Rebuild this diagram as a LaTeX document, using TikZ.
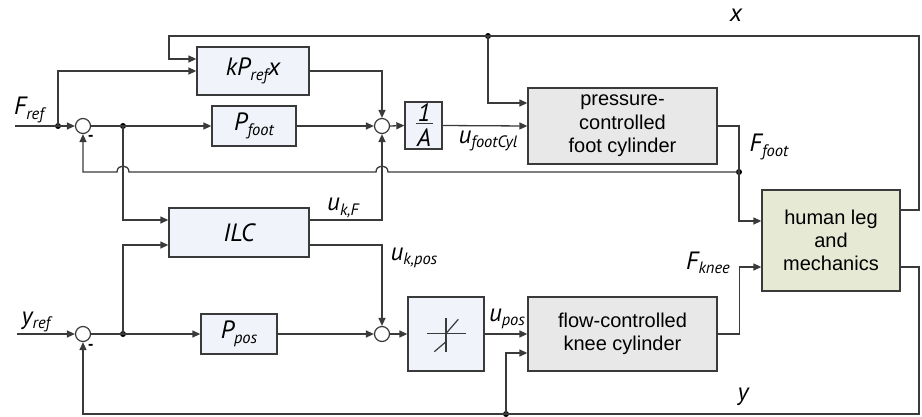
\documentclass[tikz,border=0pt]{standalone}
\usepackage{fontspec}
\setmainfont{Liberation Sans}
\newfontfamily\mfont{PT Sans}
\usetikzlibrary{arrows.meta}
\definecolor{ln}{HTML}{3A3A3A}
\definecolor{bluefill}{HTML}{F1F3FA}
\definecolor{grayfill}{HTML}{E8E8E8}
\definecolor{greenfill}{HTML}{E6E9D4}
\newcommand\ml[2]{{\mfont\itshape\fontsize{25}{25}\selectfont #1\raisebox{-4.5pt}{\fontsize{16.5}{16.5}\selectfont #2}}}
\newcommand\mi[1]{{\mfont\itshape\fontsize{25}{25}\selectfont #1}}
\tikzset{
  blk/.style={draw=ln, line width=1.3pt, fill=bluefill, inner sep=0pt},
  cylbox/.style={draw=ln, line width=1.3pt, fill=grayfill, inner sep=0pt, align=center,
     font=\fontsize{20}{23.5}\selectfont},
  humbox/.style={draw=ln, line width=1.3pt, fill=greenfill, inner sep=0pt, align=center,
     font=\fontsize{20}{23}\selectfont},
  sumc/.style={draw=ln, line width=1.2pt, fill=white, circle, minimum size=15pt, inner sep=0pt},
  jdot/.style={fill=black, circle, minimum size=6pt, inner sep=0pt},
  arr/.style={draw=ln, line width=1.3pt, -{Triangle[length=8pt,width=7pt]}},
  wire/.style={draw=ln, line width=1.3pt},
  lbl/.style={inner sep=0pt, text=black},
}
\begin{document}
\begin{tikzpicture}[x=1pt,y=-1pt]
\useasboundingbox (0,0) rectangle (922,416);
% blocks
\node[blk, minimum width=112pt, minimum height=48pt] (kbox) at (253,71) {\mi{kP}\raisebox{-4.5pt}{\mfont\itshape\fontsize{16.5}{16.5}\selectfont ref}\mi{x}};
\node[blk, minimum width=84pt, minimum height=40pt] (pfoot) at (254,126) {\ml{P}{foot}};
\node[blk, minimum width=37pt, minimum height=47pt] (inv) at (423.5,125.5) {};
\node[lbl] (one) at (424,113) {\mi{1}};
\node[lbl] (den) at (424,137.5) {\mi{A}};
\node[cylbox, minimum width=189pt, minimum height=76pt] (pcyl) at (622.5,126) {pressure-\\controlled\\foot cylinder};
\node[humbox, minimum width=138pt, minimum height=101pt] (human) at (831,240.5) {human leg\\and\\mechanics};
\node[blk, minimum width=140pt, minimum height=49pt] (ilc) at (239,232.5) {\mi{ILC}};
\node[blk, minimum width=76pt, minimum height=40pt] (ppos) at (239,334) {\ml{P}{pos}};
\node[blk, minimum width=76pt, minimum height=74pt] (sat) at (446,334) {};
\node[cylbox, minimum width=189pt, minimum height=74pt] (fcyl) at (622.5,334) {flow-controlled\\knee cylinder};
% fraction bar and saturation symbol
\draw[wire, line width=1.2pt] ([xshift=-8pt,yshift=2pt]inv.center) -- ([xshift=9pt,yshift=2pt]inv.center);
\begin{scope}[shift={(sat.center)}]
  \draw[wire, line width=1.2pt] (-19,-0.5) -- (20,-0.5);
  \draw[wire, line width=1.2pt] (0,-16) -- (0,18);
  \draw[wire, line width=1.2pt] (0.7,-1.3) -- (12.3,-14.7);
  \draw[wire, line width=1.2pt] (-11.7,17.7) -- (0,7.7);
\end{scope}
% sums
\node[sumc] (sum1) at (83,126) {};
\node[sumc] (sum2) at (382,126) {};
\node[sumc] (sum3) at (83,334) {};
\node[sumc] (sum4) at (382,334) {};
% dots and coordinates
\node[jdot] (d1) at (58,126) {};
\node[jdot] (d2) at (123,126) {};
\node[jdot] (d3) at (488,36) {};
\node[jdot] (d4) at (739,172) {};
\node[jdot] (d5) at (123,334) {};
\node[jdot] (d6) at (506,414) {};
\coordinate (fin) at (15,126);
\coordinate (yin) at (17,334);
\coordinate (xr) at (919,36);
\coordinate (xl) at (169,36);
\coordinate (yr) at (919,414);
% force loop
\draw[arr] (fin) -- (sum1.west);
\draw[arr] (d1.center) |- (kbox.west);
\draw[arr] (sum1.east) -- (pfoot.west);
\draw[arr] (pfoot.east) -- (sum2.west);
\draw[arr] (kbox.east) -| (sum2.north);
\draw[arr] (sum2.east) -- (inv.west);
\draw[arr] (inv.east) -- (pcyl.west);
\draw[arr] ([yshift=30.5pt]human.east) -| (xr) -- (xl) |- ([yshift=12pt]kbox.west);
\draw[arr] (d3.center) |- ([yshift=23pt]pcyl.west);
\draw[arr] (pcyl.east) -| (d4.center) |- ([yshift=19.5pt]human.west);
\draw[arr] (d4.center) -- ([xshift=6pt]sum2.center |- d4.center)
   .. controls +(0,-8) and +(0,-8) .. ([xshift=-6pt]sum2.center |- d4.center)
   -- ([xshift=6pt]d2.center |- d4.center)
   .. controls +(0,-8) and +(0,-8) .. ([xshift=-6pt]d2.center |- d4.center)
   -| (sum1.south);
\draw[arr] (d2.center) |- ([yshift=12.5pt]ilc.west);
\draw[arr] ([yshift=12.5pt]ilc.east) -| (sum2.south);
% position loop
\draw[arr] (yin) -- (sum3.west);
\draw[arr] (sum3.east) -- (ppos.west);
\draw[arr] (d5.center) |- ([yshift=-12.5pt]ilc.west);
\draw[arr] (ppos.east) -- (sum4.west);
\draw[arr] ([yshift=-12.5pt]ilc.east) -| (sum4.north);
\draw[arr] (sum4.east) -- (sat.west);
\draw[arr] (sat.east) -- (fcyl.west);
\draw[arr] (fcyl.east) -- ++(22,0) |- ([yshift=-26.5pt]human.west);
\draw[arr] ([yshift=-26.5pt]human.east) -| (yr) -| (sum3.south);
\draw[arr] (d6.center) |- ([yshift=-19pt]fcyl.west);
% labels
\node[lbl] (lx) at (736,15) {\mi{x}};
\node[lbl] (lfref) at (29,110) {\ml{F}{ref}};
\node[lbl] (lufc) at (488,141) {\ml{u}{footCyl}};
\node[lbl] (lffoot) at (769,147) {\ml{F}{foot}};
\node[lbl] (lukf) at (343,208) {\ml{u}{k,F}};
\node[lbl] (lukp) at (414,258) {\ml{u}{k,pos}};
\node[lbl] (lyref) at (36,322) {\ml{y}{ref}};
\node[lbl] (lfknee) at (708,263) {\ml{F}{knee}};
\node[lbl] (lupos) at (507,319) {\ml{u}{pos}};
\node[lbl] (ly) at (743,397) {\mi{y}};
\node[lbl, anchor=west] (m1) at (88,138) {\fontsize{16}{16}\selectfont\bfseries -};
\node[lbl, anchor=west] (m2) at (88,347) {\fontsize{16}{16}\selectfont\bfseries -};
\end{tikzpicture}
\end{document}
